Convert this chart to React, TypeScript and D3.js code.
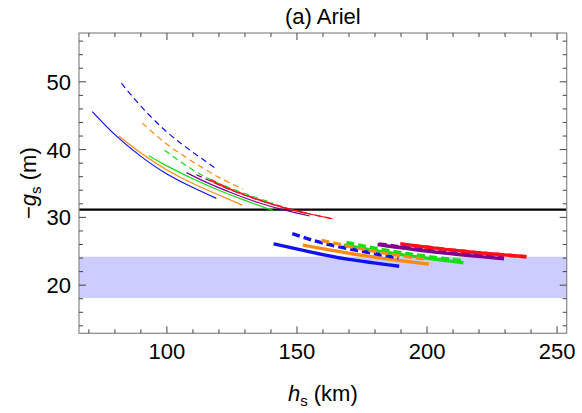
import React from "react";
import * as d3 from "d3";

type Pt = [number, number];

const seriesNames = ["blue", "orange", "green", "purple", "red"];
const seriesColors = ["#1010f0", "#ff8a10", "#10e010", "#800090", "#ff1010"];

// thin solid curves (h_s km, -g_s m)
const thinSolid: Pt[][] = [
  [[71.3, 45.6], [80, 42.2], [90, 39.0], [100, 36.4], [110, 34.4], [119, 32.8]],
  [[81.5, 42.0], [90, 39.5], [100, 37.0], [110, 35.0], [120, 33.3], [129, 31.8]],
  [[93.1, 39.1], [100, 37.6], [110, 35.7], [120, 34.0], [130, 32.5], [140.8, 31.0]],
  [[107.5, 36.6], [115, 35.2], [125, 33.6], [135, 32.2], [145, 31.1], [154.9, 30.2]],
  [[116.4, 35.5], [125, 34.0], [135, 32.6], [145, 31.4], [155, 30.5], [163.6, 29.8]],
];
// thin dashed curves
const thinDashed: Pt[][] = [
  [[82.5, 49.8], [90, 46.4], [100, 42.6], [110, 39.6], [119.2, 37.1]],
  [[90.5, 43.9], [100, 40.8], [110, 38.2], [120, 35.9], [129.2, 34.2]],
  [[99.1, 39.9], [110, 37.0], [120, 35.0], [130, 33.5], [140.8, 32.1]],
  [[111.3, 36.3], [125, 34.0], [140, 32.0], [154.9, 30.5]],
  [[117, 35.6], [125, 34.1], [135, 32.7], [145, 31.5], [155, 30.5], [163.6, 29.8]],
];
// thick solid curves
const thickSolid: Pt[][] = [
  [[141, 26.1], [155, 24.9], [170, 23.8], [189.3, 22.8]],
  [[152.3, 25.9], [175, 24.4], [200.8, 23.1]],
  [[168, 25.9], [190, 24.5], [214, 23.3]],
  [[181, 26.0], [205, 24.8], [229.6, 23.9]],
  [[189.8, 26.1], [214, 25.0], [238.2, 24.2]],
];
// thick dashed curves
const thickDashed: Pt[][] = [
  [[148.2, 27.6], [160, 26.2], [175, 25.0], [189, 24.0]],
  [[159.4, 26.6], [180, 25.0], [200, 23.8]],
  [[169, 26.3], [190, 24.8], [214, 23.6]],
  [[181.5, 26.1], [205, 24.9], [229.6, 24.0]],
  [[189.8, 26.1], [214, 25.0], [238.2, 24.2]],
];

const refLine = 31.14;
const band: [number, number] = [18.1, 24.2];

const xMajor = [100, 150, 200, 250];
const xMinor = d3.range(70, 251, 10);
const yMajor = [20, 30, 40, 50];
const yMinor = d3.range(14, 57, 2);

const L = 79, R = 566.7, T = 33, B = 333.3;

export default function App() {
  const x = d3.scaleLinear().domain([66.2, 253.7]).range([L, R]);
  const y = d3.scaleLinear().domain([12.9, 57.2]).range([B, T]);
  const line = d3
    .line<Pt>()
    .x((d) => x(d[0]))
    .y((d) => y(d[1]))
    .curve(d3.curveNatural);
  const font = "'Liberation Sans', Arial, Helvetica, sans-serif";

  const renderSet = (set: Pt[][], width: number, dash: string | undefined, key: string) =>
    set.map((pts, i) => (
      <path
        key={key + seriesNames[i]}
        d={line(pts) || ""}
        fill="none"
        stroke={seriesColors[i]}
        strokeWidth={width}
        strokeDasharray={dash}
      />
    ));

  return (
    <svg
      width={582}
      height={413}
      style={{ position: "absolute", left: 0, top: 0, background: "white" }}
      fontFamily={font}
    >
      <rect x={0} y={0} width={582} height={413} fill="white" />
      <text x={(L + R) / 2} y={24} textAnchor="middle" fontSize={22}>
        (a) Ariel
      </text>
      <rect
        x={L}
        y={y(band[1])}
        width={R - L}
        height={y(band[0]) - y(band[1])}
        fill="#ccccff"
      />
      <line x1={L} x2={R} y1={y(refLine)} y2={y(refLine)} stroke="black" strokeWidth={2.4} />
      {renderSet(thinDashed, 1.2, "6,4", "td")}
      {renderSet(thinSolid, 1.2, undefined, "ts")}
      {renderSet(thickSolid, 3.4, undefined, "ks")}
      {renderSet(thickDashed, 3.4, "8,4", "kd")}
      <rect x={L} y={T} width={R - L} height={B - T} fill="none" stroke="#888" strokeWidth={1.2} />
      {xMinor.map((v) => {
        const len = xMajor.includes(v) ? 7 : 4;
        return (
          <g key={"xt" + v} stroke="#444" strokeWidth={1}>
            <line x1={x(v)} x2={x(v)} y1={B} y2={B - len} />
            <line x1={x(v)} x2={x(v)} y1={T} y2={T + len} />
          </g>
        );
      })}
      {yMinor.map((v) => {
        const len = yMajor.includes(v) ? 7 : 4;
        return (
          <g key={"yt" + v} stroke="#444" strokeWidth={1}>
            <line x1={L} x2={L + len} y1={y(v)} y2={y(v)} />
            <line x1={R} x2={R - len} y1={y(v)} y2={y(v)} />
          </g>
        );
      })}
      {xMajor.map((v) => (
        <text key={"xl" + v} x={x(v)} y={359} textAnchor="middle" fontSize={22}>
          {v}
        </text>
      ))}
      {yMajor.map((v) => (
        <text key={"yl" + v} x={71} y={y(v) + 8} textAnchor="end" fontSize={22}>
          {v}
        </text>
      ))}
      <text x={(L + R) / 2} y={401} textAnchor="middle" fontSize={22}>
        <tspan fontStyle="italic">h</tspan>
        <tspan fontSize={15} dy={5}>s</tspan>
        <tspan dy={-5}> (km)</tspan>
      </text>
      <text
        transform={`translate(36, ${(T + B) / 2}) rotate(-90)`}
        textAnchor="middle"
        fontSize={22}
      >
        <tspan>−</tspan>
        <tspan fontStyle="italic">g</tspan>
        <tspan fontSize={15} dy={5}>s</tspan>
        <tspan dy={-5}> (m)</tspan>
      </text>
    </svg>
  );
}
